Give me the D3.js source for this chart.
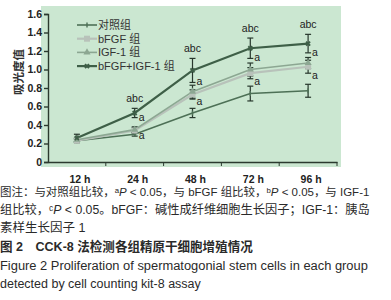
<!DOCTYPE html>
<html>
<head>
<meta charset="utf-8">
<script src="https://cdn.jsdelivr.net/npm/d3@7"></script>
<style>
  body { margin: 0; background: #fff; }
  svg { display: block; }
  text { font-family: "Liberation Sans", Arial, "DejaVu Sans", "Noto Sans CJK SC", sans-serif; }
</style>
</head>
<body>
<div id="chart"></div>
<script>
// data
var times = ["12 h", "24 h", "48 h", "72 h", "96 h"];
var seriesNames = ["对照组", "bFGF 组", "IGF-1 组", "bFGF+IGF-1 组"];
var controlVals = [0.23, 0.30, 0.53, 0.74, 0.77];
var controlErr  = [0.02, 0.02, 0.05, 0.08, 0.07];
var bfgfVals    = [0.23, 0.34, 0.73, 0.96, 1.03];
var bfgfErr     = [0.02, 0.03, 0.05, 0.06, 0.07];
var igfVals     = [0.24, 0.35, 0.76, 1.00, 1.07];
var igfErr      = [0.02, 0.03, 0.07, 0.07, 0.06];
var comboVals   = [0.26, 0.53, 0.99, 1.23, 1.28];
var comboErr    = [0.04, 0.05, 0.13, 0.11, 0.10];
var yTicks = [0, 0.2, 0.4, 0.6, 0.8, 1.0, 1.2, 1.4, 1.6];

var W = 391, H = 300;
var svg = d3.select("#chart").append("svg")
    .attr("width", W).attr("height", H);

// plot area background
svg.append("rect")
    .attr("x", 41).attr("y", 6)
    .attr("width", 300).attr("height", 161)
    .attr("fill", "#cbe7d1");

var x = d3.scaleBand().domain(times).range([48, 337]);
var y = d3.scaleLinear().domain([0, 1.6]).range([162, 14]);
var cx = function(t) { return x(t) + x.bandwidth() / 2; };

// y axis
var yAxis = svg.append("g")
    .attr("transform", "translate(48,0)")
    .call(d3.axisLeft(y).tickValues(yTicks).tickSize(4).tickPadding(2)
      .tickFormat(function(d) { return d === 0 ? "0" : d3.format(".1f")(d); }));
yAxis.selectAll("path, line").attr("stroke", "#2b3a2f").attr("stroke-width", 1.4);
yAxis.selectAll("text").attr("font-size", 10.5).attr("font-weight", "bold").attr("fill", "#222");

// x axis: labels at band centres, ticks at band boundaries
var xAxis = svg.append("g")
    .attr("transform", "translate(0,162)")
    .call(d3.axisBottom(x).tickSize(0).tickPadding(14));
xAxis.select(".domain").attr("stroke", "#2b3a2f").attr("stroke-width", 1.4);
xAxis.selectAll("text").attr("font-size", 10.5).attr("font-weight", "bold")
    .attr("fill", "#222").attr("dx", 3);
svg.append("g").selectAll("line")
    .data(times)
    .join("line")
      .attr("x1", d => x(d) + x.bandwidth()).attr("x2", d => x(d) + x.bandwidth())
      .attr("y1", 162).attr("y2", 166)
      .attr("stroke", "#2b3a2f").attr("stroke-width", 1);

// y label
svg.append("text")
    .attr("transform", "translate(23,72) rotate(-90)")
    .attr("text-anchor", "middle")
    .attr("font-size", 11.5).attr("font-weight", "bold").attr("fill", "#333")
    .text("吸光度值");

var series = [
  {name: seriesNames[0], vals: controlVals, err: controlErr, color: "#4d7056", width: 1.6, marker: "tick"},
  {name: seriesNames[1], vals: bfgfVals,    err: bfgfErr,    color: "#b8c2ba", width: 2.2, marker: "square"},
  {name: seriesNames[2], vals: igfVals,     err: igfErr,     color: "#8ca792", width: 1.6, marker: "tri"},
  {name: seriesNames[3], vals: comboVals,   err: comboErr,   color: "#3e5f47", width: 2.2, marker: "x"}
];

var line = d3.line().x((d, i) => cx(times[i])).y(d => y(d));

// error bars
series.forEach(function(s) {
  var g = svg.append("g");
  times.forEach(function(t, i) {
    var xx = cx(t), top = y(s.vals[i] + s.err[i]), bot = y(s.vals[i] - s.err[i]);
    g.append("line").attr("x1", xx).attr("x2", xx).attr("y1", top).attr("y2", bot)
      .attr("stroke", "#27372c").attr("stroke-width", 1.2);
    [top, bot].forEach(function(yy) {
      g.append("line").attr("x1", xx - 3).attr("x2", xx + 3).attr("y1", yy).attr("y2", yy)
        .attr("stroke", "#27372c").attr("stroke-width", 1.2);
    });
  });
});

// lines
series.forEach(function(s) {
  svg.append("path")
      .datum(s.vals)
      .attr("d", line)
      .attr("fill", "none")
      .attr("stroke", s.color)
      .attr("stroke-width", s.width);
});

function drawMarker(g, type, xx, yy, color) {
  if (type === "square") {
    g.append("rect").attr("x", xx - 3).attr("y", yy - 3).attr("width", 6).attr("height", 6).attr("fill", color);
  } else if (type === "tri") {
    g.append("path").attr("d", d3.symbol(d3.symbolTriangle, 22)()).attr("transform", "translate(" + xx + "," + yy + ")").attr("fill", color);
  } else if (type === "tick") {
    g.append("line").attr("x1", xx).attr("x2", xx).attr("y1", yy - 2.5).attr("y2", yy + 2.5).attr("stroke", color).attr("stroke-width", 1.4);
  } else {
    g.append("path").attr("d", d3.symbol(d3.symbolCross, 18)()).attr("transform", "translate(" + xx + "," + yy + ") rotate(45)").attr("fill", color);
  }
}

// markers
series.forEach(function(s) {
  var g = svg.append("g");
  s.vals.forEach(function(v, i) { drawMarker(g, s.marker, cx(times[i]), y(v), s.color); });
});

// significance labels
var annot = svg.append("g").attr("font-size", 10.5).attr("fill", "#222");
times.forEach(function(t, i) {
  if (i === 0) return;
  annot.append("text").attr("x", cx(t)).attr("y", y(comboVals[i] + comboErr[i]) - 6)
    .attr("text-anchor", "middle").text("abc");
  annot.append("text").attr("x", cx(t) + 4).attr("y", y(comboVals[i] - comboErr[i]) + 3).text("a");
  annot.append("text").attr("x", cx(t) + 4).attr("y", y(bfgfVals[i] - bfgfErr[i]) + 6).text("a");
});

// legend
var legend = svg.append("g");
series.forEach(function(s, i) {
  var ly = 25 + i * 13.7;
  legend.append("line").attr("x1", 77).attr("x2", 97).attr("y1", ly).attr("y2", ly)
    .attr("stroke", s.color).attr("stroke-width", s.width);
  drawMarker(legend, s.marker, 87, ly, s.color);
  legend.append("text").attr("x", 98).attr("y", ly + 4)
    .attr("font-size", 11).attr("fill", "#333").text(s.name);
});

// caption (superscripts as unicode modifier letters, P italic)
// lines that fill the width get their font size scaled to fit instead of textLength
var cap = svg.append("g").attr("fill", "#2a2a2a").attr("font-size", 12.5);
function capLine(yy, parts, len, bold) {
  var t = cap.append("text").attr("x", 0).attr("y", yy);
  if (bold) t.attr("font-weight", "bold");
  parts.forEach(function(p) {
    var ts = t.append("tspan").text(p.s);
    if (p.it) ts.attr("font-style", "italic");
  });
  if (len) {
    var w = t.node().getComputedTextLength();
    t.attr("font-size", 12.5 * len / w);
  }
  return t;
}
capLine(196, [{s: "图注：与对照组比较，ᵃ"}, {s: "P", it: 1}, {s: " < 0.05，与 bFGF 组比较，ᵇ"},
  {s: "P", it: 1}, {s: " < 0.05，与 IGF-1"}], 370);
capLine(214, [{s: "组比较，ᶜ"}, {s: "P", it: 1}, {s: " < 0.05。bFGF：碱性成纤维细胞生长因子；IGF-1：胰岛"}], 370);
capLine(232, [{s: "素样生长因子 1"}]);
capLine(251, [{s: "图 2　CCK-8 法检测各组精原干细胞增殖情况"}], 253, true);
capLine(270, [{s: "Figure 2   Proliferation of spermatogonial stem cells in each group"}], 368);
capLine(288, [{s: "detected by cell counting kit-8 assay"}]);
</script>
</body>
</html>
